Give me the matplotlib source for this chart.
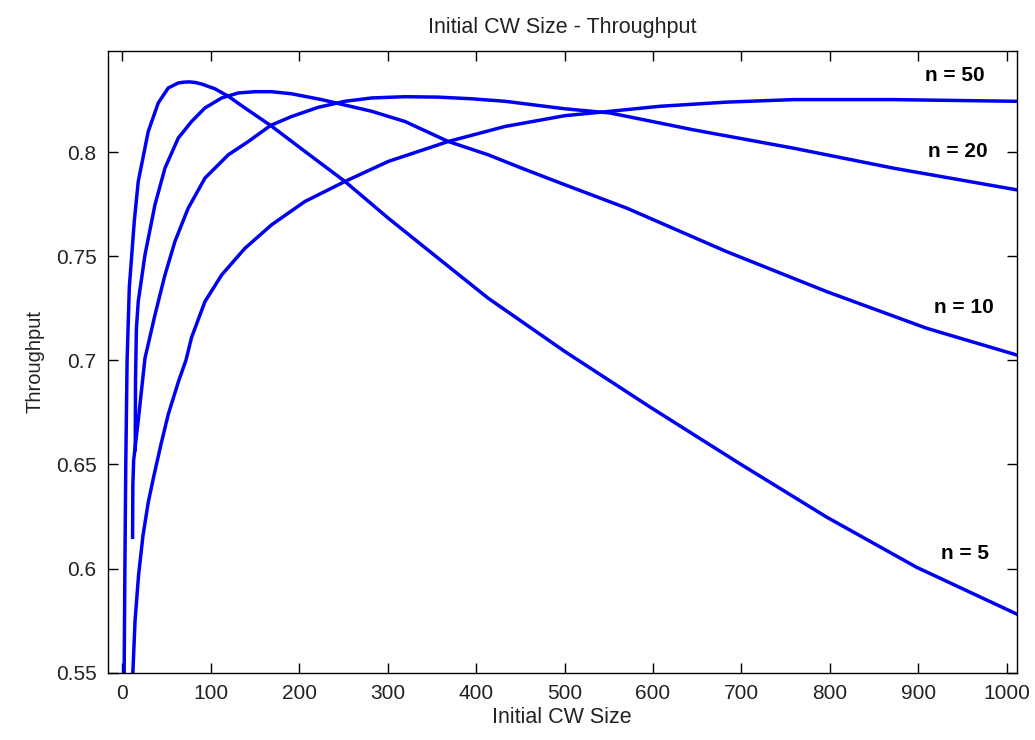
import matplotlib
matplotlib.use("Agg")
import matplotlib.pyplot as plt

plt.rcParams['font.family'] = ['Liberation Sans', 'DejaVu Sans']

# ---- data ----
x_n5 = [2.0, 3.0, 4.0, 5.5, 8.0, 13.6, 18.1, 29.4, 40.7, 52.0, 63.3, 70.0, 76.5, 83.0, 89.7,
        104.8, 119.9, 138.7, 167.7, 206.6, 251.8, 300.7, 357.3, 413.8, 500.5, 596.6,
        698.4, 796.4, 898.1, 1011]
y_n5 = [0.54, 0.60, 0.65, 0.70, 0.735, 0.7667, 0.7859, 0.8099, 0.8236, 0.8308, 0.8332,
        0.8336, 0.8337, 0.8334, 0.8327, 0.8304, 0.8268, 0.8212, 0.8128, 0.8003, 0.7859,
        0.7683, 0.7490, 0.7298, 0.7042, 0.6776, 0.6503, 0.6247, 0.6006, 0.5782]

x_n10 = [14.7, 15.0, 16.0, 18.1, 25.7, 37.0, 48.3, 63.3, 78.4, 93.5, 112.4, 131.2, 150.0,
         168.9, 191.5, 225.4, 282.0, 319.6, 368.6, 413.8, 451.5, 500.5, 570.3, 683.3,
         796.4, 909.4, 1011]
y_n10 = [0.657, 0.69, 0.715, 0.7282, 0.7506, 0.7747, 0.7923, 0.8067, 0.8147, 0.8212,
         0.8260, 0.8284, 0.8290, 0.8290, 0.8280, 0.8252, 0.8196, 0.8147, 0.8051, 0.7987,
         0.7923, 0.7843, 0.7731, 0.7522, 0.7330, 0.7154, 0.7026]

x_n20 = [11.7, 12.0, 12.9, 18.5, 25.7, 37.0, 48.3, 59.6, 74.6, 93.5, 119.9, 142.6, 167.7,
         191.5, 221.6, 251.8, 282.0, 319.6, 357.3, 395.0, 432.7, 470.3, 500.5, 551.4,
         645.6, 758.6, 871.7, 1011]
y_n20 = [0.615, 0.64, 0.652, 0.6727, 0.7010, 0.7218, 0.7410, 0.7571, 0.7731, 0.7875,
         0.7987, 0.8051, 0.8128, 0.8171, 0.8215, 0.8244, 0.8260, 0.8266, 0.8264, 0.8256,
         0.8244, 0.8224, 0.8208, 0.8188, 0.8107, 0.8019, 0.7923, 0.7819]

x_n50 = [11.5, 14.5, 18.5, 23.5, 29.5, 36.0, 44.0, 52.0, 63.7, 72.0, 78.4, 93.5, 112.4,
         138.7, 168.9, 206.6, 251.8, 300.7, 368.6, 432.7, 500.5, 551.4, 607.9, 683.3,
         758.6, 871.7, 1011]
y_n50 = [0.545, 0.575, 0.597, 0.616, 0.632, 0.645, 0.660, 0.674, 0.690, 0.700, 0.7110,
         0.7282, 0.7410, 0.7538, 0.7651, 0.7763, 0.7859, 0.7955, 0.8051, 0.8123, 0.8175,
         0.8196, 0.8220, 0.8240, 0.8252, 0.8252, 0.8244]

series_labels = ["n = 5", "n = 10", "n = 20", "n = 50"]
label_x = [953, 951, 945, 941]
label_y = [0.607, 0.7255, 0.8005, 0.837]

x_ticks = [0, 100, 200, 300, 400, 500, 600, 700, 800, 900, 1000]
x_tick_labels = ["0", "100", "200", "300", "400", "500", "600", "700", "800", "900", "1000"]
y_ticks = [0.55, 0.6, 0.65, 0.7, 0.75, 0.8]
y_tick_labels = ["0.55", "0.6", "0.65", "0.7", "0.75", "0.8"]

# ---- figure ----
fig = plt.figure(figsize=(10.35, 7.4), dpi=100)
ax = fig.add_axes([0.104, 0.091, 0.8783, 0.8405])

line_color = (0.0, 0.0, 0.95)
for xs, ys in [(x_n5, y_n5), (x_n10, y_n10), (x_n20, y_n20), (x_n50, y_n50)]:
    ax.plot(xs, ys, color=line_color, lw=2.5, solid_joinstyle='round')

for lab, lx, ly in zip(series_labels, label_x, label_y):
    ax.text(lx, ly, lab, fontsize=15, fontweight='bold', ha='center', va='center',
            color='black')

ax.set_xlim(-16.5, 1011.2)
ax.set_ylim(0.55, 0.8487)
ax.set_xticks(x_ticks)
ax.set_xticklabels(x_tick_labels)
ax.set_yticks(y_ticks)
ax.set_yticklabels(y_tick_labels)
ax.tick_params(direction='in', length=7, width=1, top=True, right=True,
               labelsize=15, pad=8, colors='black', labelcolor='#222222')
for s in ax.spines.values():
    s.set_linewidth(1.0)
    s.set_color('black')

ax.set_title("Initial CW Size - Throughput", fontsize=15.5, pad=13, color='#222222')
ax.set_xlabel("Initial CW Size", fontsize=15.5, labelpad=3, color='#222222')
ax.set_ylabel("Throughput", fontsize=14.5, labelpad=8, color='#222222')

fig.savefig("out.png", dpi=100)
